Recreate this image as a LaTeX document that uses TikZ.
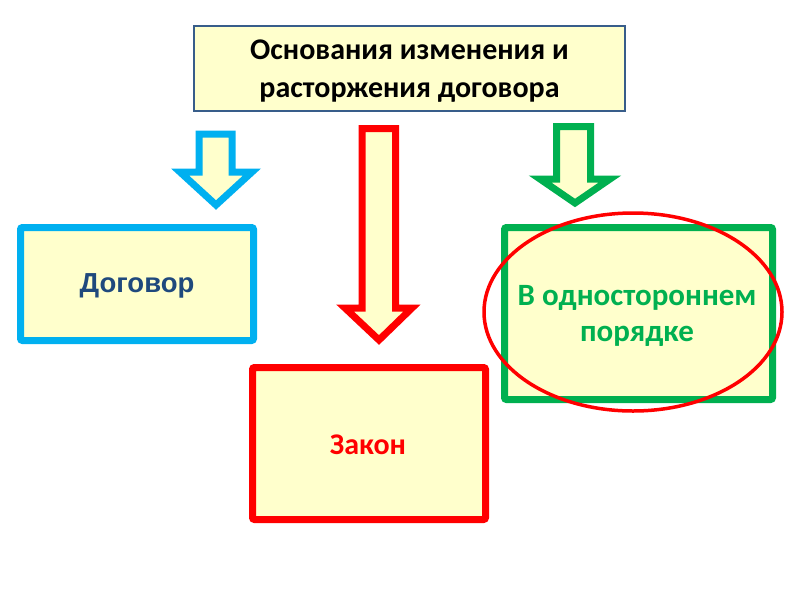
\documentclass[tikz,border=0pt]{standalone}
\usepackage{fontspec}
\setmainfont{Carlito}
\newfontfamily\arialf{Liberation Sans}
\definecolor{fillY}{HTML}{FFFFCC}
\definecolor{cBlue}{HTML}{00B0F0}
\definecolor{cRed}{HTML}{FF0000}
\definecolor{cGreen}{HTML}{00B050}
\definecolor{cTop}{HTML}{385D8A}
\definecolor{cText}{HTML}{1F497D}
\tikzset{
  boxst/.style={fill=fillY, line width=7pt, rounded corners=2pt},
  arrowst/.style={fill=fillY, line width=7pt, line join=miter, miter limit=10},
  lbl/.style={font=\bfseries\fontsize{30}{36}\selectfont, align=center}
}
\begin{document}
\begin{tikzpicture}[x=1pt,y=-1pt]
\useasboundingbox (0,0) rectangle (800,600);
% top box
\draw[fill=fillY, draw=cTop, line width=1.5pt] (194,26) rectangle (625,111);
\node[font=\bfseries\fontsize{30}{38}\selectfont, align=center] (top) at (409.5,71) {Основания изменения и\\расторжения договора};
% arrows
\draw[arrowst, draw=cBlue] (199,134) -- (232,134) -- (232,172) -- (252,172) -- (216,205) -- (180,172) -- (199,172) -- cycle;
\draw[arrowst, draw=cRed] (362,128.5) -- (395.5,128.5) -- (395.5,308) -- (412,308) -- (379,340) -- (345,308) -- (362,308) -- cycle;
\draw[arrowst, draw=cGreen] (556.5,126.5) -- (590.5,126.5) -- (590.5,179) -- (610,179) -- (575,203) -- (540,179) -- (556.5,179) -- cycle;
% boxes
\draw[boxst, draw=cBlue] (20.5,227.5) rectangle (253.5,340.5);
\node[font=\arialf\bfseries\fontsize{27.5}{30}\selectfont, text=cText] (dog) at (137,286) {Договор};
\draw[boxst, draw=cRed] (252.5,367.5) rectangle (485.5,519.5);
\node[lbl, text=cRed] (zak) at (368,445) {Закон};
\draw[boxst, draw=cGreen] (504.5,227.5) rectangle (772.5,399.5);
\node[lbl, font=\bfseries\fontsize{31}{36}\selectfont, text=cGreen] (odn) at (637,316) {В одностороннем\\порядке};
% ellipse
\draw[cRed, line width=3.5pt] (633,312) ellipse [x radius=149, y radius=99];
\end{tikzpicture}
\end{document}
